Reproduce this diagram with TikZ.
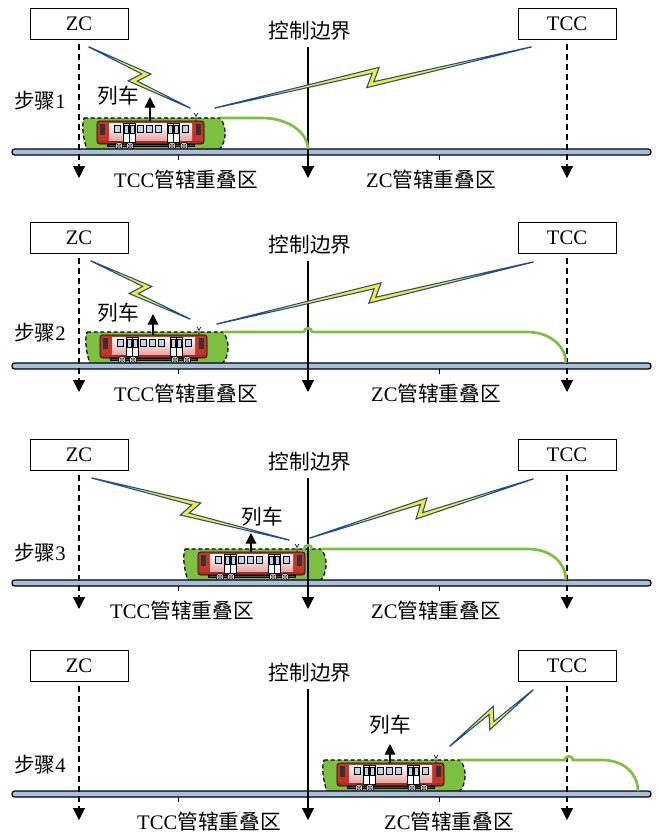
\documentclass[tikz,border=0pt]{standalone}
\usepackage{fontspec}
\setmainfont{Liberation Serif}
\newfontfamily\cjk{Noto Sans CJK SC}
\usetikzlibrary{arrows.meta, calc}

\definecolor{magreen}{RGB}{124,192,64}
\definecolor{boltblue}{RGB}{30,78,142}
\definecolor{boltyellow}{RGB}{246,234,50}
\definecolor{railblue}{RGB}{168,192,222}
\definecolor{tramred}{RGB}{198,52,42}
\definecolor{winblue}{RGB}{188,214,240}

\newcommand{\zh}[1]{{\cjk #1}}
% radio link: tapered zig-zag between two coordinates
\newcommand{\bolt}[2]{%
  \filldraw[bolt] ($(#1)!0.1pt!90:(#2)$)
    -- ($(#1)!.5!(#2)!6pt!(#2)!6.6pt!90:(#2)$)
    -- ($(#1)!.5!(#2)!3.2pt!-90:(#2)$)
    -- ($(#2)!0.1pt!-90:(#1)$)
    -- ($(#2)!0.1pt!90:(#1)$)
    -- ($(#1)!.5!(#2)!6pt!180:(#2)!6.6pt!-90:(#2)$)
    -- ($(#1)!.5!(#2)!3.2pt!90:(#2)$)
    -- ($(#1)!0.1pt!-90:(#2)$)
    -- cycle;}

\tikzset{
  envelope/.style={fill=magreen, draw=black, dashed, dash pattern=on 3pt off 2pt, line width=0.9pt},
  tram/.pic={
    % envelope around the train
    \filldraw[envelope] (-13,-3) -- (123,-3) .. controls (130,5) and (130,21) .. (122,29)
      -- (-10,29) .. controls (-13,20) and (-16,6) .. (-13,-3) -- cycle;
    \coordinate (-ma) at (123,-3);
    \coordinate (-top) at (53,0);
    % body
    \fill[tramred, rounded corners=2pt] (0,0) rectangle (107,23);
    \fill[top color=white, middle color=white, bottom color=tramred!45] (12,2) rectangle (95,20);
    \fill[tramred!85!black] (1,20) rectangle (106,23);
    \fill[black!80] (3,3) rectangle (8,14);
    \fill[black!80] (99,3) rectangle (104,14);
    \foreach \d in {26,32,70,76}
      \draw[fill=white, line width=0.3pt] (\d,2) rectangle +(6,19);
    \foreach \d in {27,33,71,77}
      \draw[fill=winblue, line width=0.3pt] (\d,4) rectangle +(4,8);
    \foreach \w in {17,40,49,58,85}
      \draw[fill=winblue, line width=0.3pt] (\w,4) rectangle +(6,7);
    \draw[line width=0.5pt, rounded corners=2pt] (0,0) rectangle (107,23);
    % bogies
    \draw[fill=black!70, line width=0.3pt] (10,23) rectangle (97,25);
    \foreach \c in {22,33,75,87} {
      \draw[fill=white, line width=0.5pt] (\c,25) circle[radius=2.9pt];
      \draw[line width=0.4pt] (\c,25) circle[radius=1.6pt];
      \fill (\c,25) circle[radius=0.6pt];
    }
    % antenna
    \draw[line width=0.5pt] (99,0) -- (99,-5) (97,-8) -- (99,-5) -- (101,-8);
  }
}

\begin{document}
\begin{tikzpicture}[x=0.75pt, y=-0.75pt, font=\fontsize{15.5pt}{18pt}\selectfont,
    box/.style={draw, line width=0.75pt, minimum width=73.5pt, minimum height=23pt, inner sep=0pt},
    guide/.style={dashed, dash pattern=on 4.5pt off 3pt, line width=0.8pt, -{Triangle[width=9pt,length=9pt]}},
    bound/.style={line width=0.9pt, -{Triangle[width=9pt,length=9pt]}},
    rail/.style={draw, line width=0.9pt, fill=railblue, rounded corners=2pt},
    ma/.style={magreen, line width=2pt},
    bolt/.style={draw=boltblue, fill=boltyellow, line width=0.8pt},
    up/.style={line width=0.9pt, -{Triangle[width=8pt,length=8pt]}}]
\useasboundingbox (0,0) rectangle (658,835);

% trains
\pic (t1) at (97,121) {tram};
\pic (t2) at (100,335) {tram};
\pic (t3) at (198,552) {tram};
\pic (t4) at (337,763) {tram};

% track, controllers and boundaries of every step
\foreach \n/\ty/\sy/\xa/\xb in {1/152/51/186/431, 2/366/33/186/436, 3/583/30/182/436, 4/794/29/209/449}{
  \draw[rail] (12,\ty-3) rectangle (651,\ty+3);
  \draw[line width=0.6pt] (178,\ty+3) -- (178,\ty+8) (439,\ty+3) -- (439,\ty+8);
  \node[box] (zc\n) at (79,\ty-128) {ZC};
  \node[box] (tcc\n) at (567,\ty-128) {TCC};
  \node (cb\n) at (310,\ty-121) {\zh{控制边界}};
  \coordinate (cbtop\n) at (308,\ty-105);
  \coordinate (cbend\n) at (308,\ty+26);
  \coordinate (zcend\n) at (79,\ty+26);
  \coordinate (tccend\n) at (567,\ty+26);
  \draw[guide] ([yshift=-3pt]zc\n.south) -- (zcend\n);
  \draw[guide] ([yshift=-3pt]tcc\n.south) -- (tccend\n);
  \draw[bound] (cbtop\n) -- (cbend\n);
  \node (step\n) at (40,\ty-\sy) {\zh{步骤}\n};
  \node (tz\n) at (\xa,\ty+28) {TCC\zh{管辖重叠区}};
  \node (zz\n) at (\xb,\ty+28) {ZC\zh{管辖重叠区}};
}

% movement authority
\draw[ma] (t1-ma) -- (262,118) .. controls (290,118) and (308,134) .. (308,149);
\draw[ma] (t2-ma) -- (304,332) .. controls (304,327) and (312,327) .. (312,332)
  -- (527,332) .. controls (552,332) and (566,348) .. (566,363);
\draw[ma] (t3-ma) -- (528,549) .. controls (553,549) and (566,565) .. (566,580);
\draw[ma] (304,549) .. controls (304,544) and (312,544) .. (312,549);
\draw[ma] (t4-ma) -- (565,760) .. controls (565,755) and (573,755) .. (573,760)
  -- (602,760) .. controls (626,760) and (638,776) .. (638,791);

% train labels
\node (car1) at (118,96) {\zh{列车}};
\coordinate (tip1) at (150,97);
\draw[up] (t1-top) -- (tip1);
\node (car2) at (118,313) {\zh{列车}};
\coordinate (tip2) at (153,314);
\draw[up] (t2-top) -- (tip2);
\node (car3) at (262,517) {\zh{列车}};
\coordinate (tip3) at (251,533);
\draw[up] (t3-top) -- (tip3);
\node (car4) at (390,725) {\zh{列车}};
\coordinate (tip4) at (390,744);
\draw[up] (t4-top) -- (tip4);

% radio links
\coordinate (zs1) at (89,47);   \coordinate (ze1) at (190,108);
\coordinate (ts1) at (531,47);  \coordinate (te1) at (215,108);
\coordinate (zs2) at (91,261);  \coordinate (ze2) at (190,319);
\coordinate (ts2) at (533,262); \coordinate (te2) at (217,324);
\coordinate (zs3) at (92,478);  \coordinate (ze3) at (289,540);
\coordinate (ts3) at (533,479); \coordinate (te3) at (310,538);
\coordinate (ts4) at (533,690); \coordinate (te4) at (450,746);
\bolt{zs1}{ze1} \bolt{ts1}{te1}
\bolt{zs2}{ze2} \bolt{ts2}{te2}
\bolt{zs3}{ze3} \bolt{ts3}{te3}
\bolt{ts4}{te4}
\end{tikzpicture}
\end{document}
